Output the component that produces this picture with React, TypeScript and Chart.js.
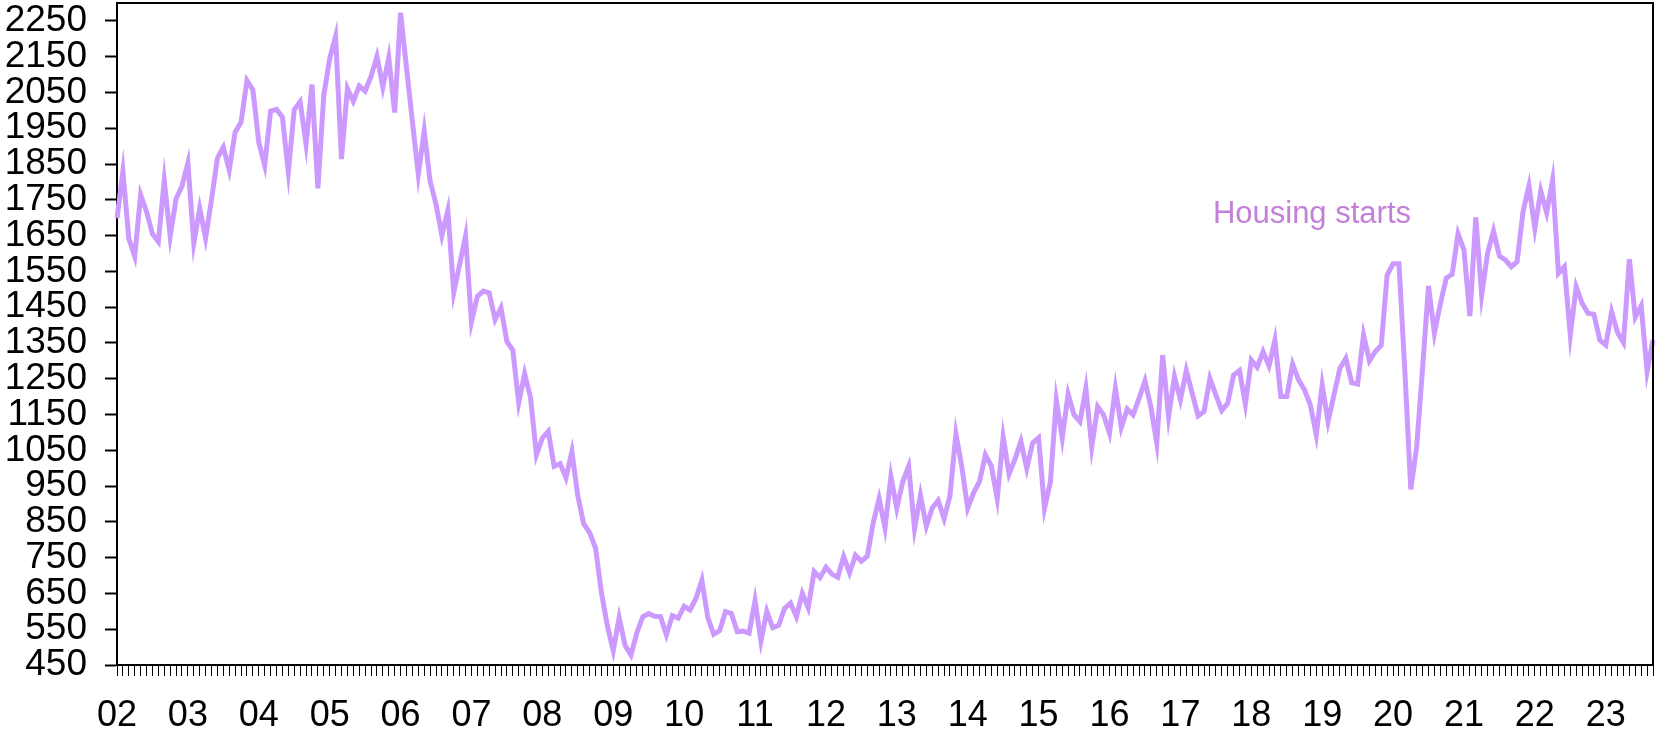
import React, { useEffect, useRef } from "react";
import { Chart, registerables } from "chart.js";

Chart.register(...registerables);

// Monthly housing starts (thousands, SAAR), Jan 2002 – Sep 2023
const startYear = 2002;
const housingStarts: number[] = [
  // 2002
  1698, 1829, 1642, 1592, 1764, 1717, 1655, 1633, 1804, 1648, 1753, 1788,
  // 2003
  1853, 1629, 1726, 1643, 1751, 1867, 1897, 1833, 1939, 1967, 2083, 2057,
  // 2004
  1911, 1846, 1998, 2003, 1981, 1828, 2002, 2024, 1905, 2072, 1782, 2042,
  // 2005
  2144, 2207, 1864, 2061, 2025, 2068, 2054, 2095, 2151, 2065, 2147, 1994,
  // 2006
  2273, 2119, 1969, 1821, 1942, 1802, 1737, 1650, 1720, 1491, 1570, 1649,
  // 2007
  1409, 1480, 1495, 1490, 1415, 1448, 1354, 1330, 1183, 1264, 1197, 1037,
  // 2008
  1084, 1103, 1005, 1013, 973, 1046, 923, 844, 820, 777, 652, 560,
  // 2009
  490, 582, 505, 478, 540, 585, 594, 586, 585, 534, 588, 581,
  // 2010
  614, 604, 636, 687, 583, 536, 546, 599, 594, 543, 545, 539,
  // 2011
  630, 517, 600, 554, 561, 608, 623, 585, 650, 610, 711, 694,
  // 2012
  723, 704, 695, 753, 708, 757, 740, 754, 847, 915, 833, 976,
  // 2013
  888, 962, 1005, 831, 924, 838, 889, 910, 859, 923, 1096, 1004,
  // 2014
  888, 931, 963, 1037, 1006, 914, 1087, 984, 1025, 1075, 999, 1071,
  // 2015
  1085, 888, 962, 1190, 1084, 1207, 1149, 1130, 1223, 1060, 1172, 1149,
  // 2016
  1098, 1223, 1114, 1165, 1149, 1195, 1244, 1172, 1070, 1316, 1144, 1256,
  // 2017
  1191, 1273, 1209, 1146, 1158, 1251, 1205, 1161, 1181, 1260, 1273, 1179,
  // 2018
  1302, 1282, 1326, 1286, 1358, 1200, 1200, 1291, 1247, 1219, 1177, 1093,
  // 2019
  1233, 1130, 1205, 1279, 1307, 1239, 1235, 1372, 1300, 1326, 1344, 1540,
  // 2020
  1571, 1571, 1270, 941, 1060, 1280, 1509, 1377, 1459, 1531, 1542, 1655,
  // 2021
  1610, 1425, 1701, 1484, 1601, 1663, 1593, 1582, 1563, 1577, 1717, 1789,
  // 2022
  1670, 1775, 1714, 1805, 1545, 1563, 1372, 1507, 1461, 1433, 1430, 1358,
  // 2023
  1344, 1437, 1379, 1351, 1584, 1422, 1454, 1270, 1358,
];

// Month categories "YYYY-MM"
const monthLabels: string[] = housingStarts.map((_, i) => {
  const y = startYear + Math.floor(i / 12);
  const m = (i % 12) + 1;
  return `${y}-${m < 10 ? "0" + m : m}`;
});

const yTicks: number[] = [
  450, 550, 650, 750, 850, 950, 1050, 1150, 1250, 1350, 1450, 1550, 1650,
  1750, 1850, 1950, 2050, 2150, 2250,
];
const yMin = 450;
const yMax = 2300;

const seriesName = "Housing starts";
const seriesLabelAnchor = { index: 185.5, value: 1685 };

const LINE_COLOR = "#cc99ff";
const LABEL_COLOR = "#c47fd8";
const FONT = "'Liberation Sans', Arial, Helvetica, sans-serif";

export default function App() {
  const canvasRef = useRef<HTMLCanvasElement | null>(null);

  useEffect(() => {
    document.body.style.margin = "0";
    document.body.style.overflow = "hidden";
    const canvas = canvasRef.current;
    if (!canvas) return;

    const frameAndLabel = {
      id: "frameAndLabel",
      afterDatasetsDraw(chart: any) {
        const { ctx, chartArea, scales } = chart;
        ctx.save();
        ctx.strokeStyle = "#000";
        ctx.lineWidth = 2;
        ctx.beginPath();
        ctx.moveTo(chartArea.left, chartArea.top);
        ctx.lineTo(chartArea.right, chartArea.top);
        ctx.lineTo(chartArea.right, chartArea.bottom);
        ctx.stroke();
        const x = scales.x.getPixelForValue(seriesLabelAnchor.index);
        const y = scales.y.getPixelForValue(seriesLabelAnchor.value);
        ctx.fillStyle = LABEL_COLOR;
        ctx.font = `31px ${FONT}`;
        ctx.textAlign = "left";
        ctx.textBaseline = "alphabetic";
        ctx.fillText(seriesName, x, y);
        ctx.restore();
      },
    };

    const chart = new Chart(canvas, {
      type: "line",
      data: {
        labels: monthLabels,
        datasets: [
          {
            label: seriesName,
            data: housingStarts,
            borderColor: LINE_COLOR,
            borderWidth: 5,
            pointRadius: 0,
            tension: 0,
            fill: false,
          },
        ],
      },
      options: {
        animation: false,
        responsive: false,
        devicePixelRatio: 1,
        layout: { padding: { top: 3, right: 3, left: 0, bottom: 0 } },
        plugins: {
          legend: { display: false },
          tooltip: { enabled: false },
          title: { display: false },
        },
        scales: {
          x: {
            type: "category",
            offset: false,
            border: { display: true, color: "#000", width: 2 },
            grid: {
              display: true,
              drawOnChartArea: false,
              drawTicks: true,
              tickLength: 11,
              tickColor: "#000",
              tickWidth: 1,
              offset: false,
            },
            ticks: {
              autoSkip: false,
              maxRotation: 0,
              minRotation: 0,
              padding: 18,
              color: "#000",
              font: { family: FONT, size: 36 },
              callback: (_v: any, i: number) => {
                const lbl = monthLabels[i];
                if (!lbl) return "";
                return lbl.endsWith("-01") ? lbl.slice(2, 4) : "";
              },
            },
            afterFit: (scale: any) => {
              scale.height = 67;
              scale.paddingLeft = 0;
              scale.paddingRight = 0;
            },
          },
          y: {
            type: "linear",
            min: yMin,
            max: yMax,
            border: { display: true, color: "#000", width: 2 },
            grid: {
              display: true,
              drawOnChartArea: false,
              drawTicks: true,
              tickLength: 12,
              tickColor: "#000",
              tickWidth: 2,
            },
            ticks: {
              autoSkip: false,
              padding: 18,
              color: "#000",
              font: { family: FONT, size: 37 },
              callback: (v: any) => String(v),
            },
            afterBuildTicks: (scale: any) => {
              scale.ticks = yTicks.map((v) => ({ value: v }));
            },
            afterFit: (scale: any) => {
              scale.width = 117;
              scale.paddingTop = 0;
              scale.paddingBottom = 0;
            },
          },
        },
      },
      plugins: [frameAndLabel],
    });

    return () => chart.destroy();
  }, []);

  return (
    <div style={{ width: 1656, height: 732, background: "#fff" }}>
      <canvas ref={canvasRef} width={1656} height={732} />
    </div>
  );
}
